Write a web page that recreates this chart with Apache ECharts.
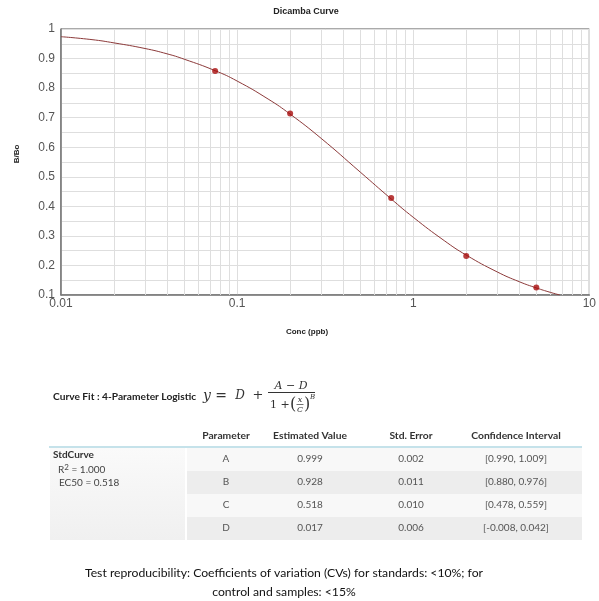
<!DOCTYPE html>
<html><head><meta charset="utf-8">
<script src="https://cdn.jsdelivr.net/npm/echarts@6/dist/echarts.min.js"></script>
<style>html,body{margin:0;padding:0;background:#fff;}#c{width:599px;height:601px;}</style>
</head><body><div id="c"></div>
<script>
// ---- data ----
const stdX = [0.075, 0.2, 0.75, 2, 5];
const stdY = [0.858, 0.714, 0.428, 0.232, 0.125];
const curveX = [0.01, 0.015, 0.02, 0.03, 0.04, 0.05, 0.075, 0.1, 0.15, 0.2, 0.3, 0.5, 0.75, 1, 1.5, 2, 3, 4, 5, 6, 6.8];
const curveY = [0.974, 0.964, 0.953, 0.934, 0.916, 0.898, 0.859, 0.824, 0.763, 0.712, 0.630, 0.516, 0.425, 0.363, 0.284, 0.235, 0.178, 0.145, 0.124, 0.109, 0.100];
const xTickLabels = ['0.01', '0.1', '1', '10'];
const minorGridX = [0.02,0.03,0.04,0.05,0.06,0.07,0.08,0.09,0.2,0.3,0.4,0.5,0.6,0.7,0.8,0.9,2,3,4,5,6,7,8,9];
const paramNames = ['A', 'B', 'C', 'D'];
const estValues = ['0.999', '0.928', '0.518', '0.017'];
const stdErrors = ['0.002', '0.011', '0.010', '0.006'];
const confIntervals = ['[0.990, 1.009]', '[0.880, 0.976]', '[0.478, 0.559]', '[-0.008, 0.042]'];
const tableHeaders = ['Parameter', 'Estimated Value', 'Std. Error', 'Confidence Interval'];
const noteLines = ['Test reproducibility: Coefficients of variation (CVs) for standards: <10%; for', 'control and samples: <15%'];

const chart = echarts.init(document.getElementById('c'), null, {renderer: 'canvas'});
const gridCol = '#dedede';
const tf = 'Lato, "Open Sans", sans-serif';
const mf = '"DejaVu Serif", "Liberation Serif", serif';

const g = [];
// title & axis names
g.push({type:'text', x:306, y:12, style:{text:'Dicamba Curve', font:'bold 9px "Liberation Sans", Arial', fill:'#222', align:'center', verticalAlign:'middle'}});
g.push({type:'text', x:307, y:332, style:{text:'Conc (ppb)', font:'bold 8px "Liberation Sans", Arial', fill:'#222', align:'center', verticalAlign:'middle'}});
g.push({type:'text', x:17, y:154, rotation:Math.PI/2, style:{text:'B/Bo', font:'bold 8px "Liberation Sans", Arial', fill:'#222', align:'center', verticalAlign:'middle'}});

// curve fit heading + formula
g.push({type:'text', x:53, y:397, style:{text:'Curve Fit : 4-Parameter Logistic', font:'bold 10.2px '+tf, fill:'#222', align:'left', verticalAlign:'middle'}});
g.push({type:'text', x:203, y:396, style:{text:'y =', font:'italic 14px '+mf, fill:'#333', align:'left', verticalAlign:'middle'}});
g.push({type:'text', x:240, y:396, style:{text:'D', font:'italic 12px '+mf, fill:'#333', align:'center', verticalAlign:'middle'}});
g.push({type:'text', x:258, y:396, style:{text:'+', font:'13px '+mf, fill:'#333', align:'center', verticalAlign:'middle'}});
g.push({type:'text', x:291, y:386, style:{text:'A − D', font:'italic 11px '+mf, fill:'#333', align:'center', verticalAlign:'middle'}});
g.push({type:'line', shape:{x1:268, y1:392.5, x2:315, y2:392.5}, style:{stroke:'#333', lineWidth:1}});
g.push({type:'text', x:270, y:405, style:{text:'1 +', font:'11px '+mf, fill:'#333', align:'left', verticalAlign:'middle'}});
g.push({type:'text', x:290, y:405, style:{text:'(', font:'16px '+mf, fill:'#333', align:'left', verticalAlign:'middle'}});
g.push({type:'text', x:300, y:400, style:{text:'x', font:'italic 8px '+mf, fill:'#333', align:'center', verticalAlign:'middle'}});
g.push({type:'line', shape:{x1:296.5, y1:404.5, x2:303.5, y2:404.5}, style:{stroke:'#333', lineWidth:0.7}});
g.push({type:'text', x:300, y:409.5, style:{text:'C', font:'italic 8px '+mf, fill:'#333', align:'center', verticalAlign:'middle'}});
g.push({type:'text', x:304, y:405, style:{text:')', font:'16px '+mf, fill:'#333', align:'left', verticalAlign:'middle'}});
g.push({type:'text', x:310, y:397, style:{text:'B', font:'italic 7px '+mf, fill:'#333', align:'left', verticalAlign:'middle'}});

// table
const colX = [226, 310, 411, 516];
const rowTop = 448, rowH = 23;
g.push({type:'rect', shape:{x:50, y:rowTop, width:135, height:rowH*4}, style:{fill:{type:'linear', x:0, y:0, x2:0, y2:1, colorStops:[{offset:0, color:'#fafafa'}, {offset:1, color:'#f0f0f0'}]}}});
paramNames.forEach((p, i) => {
  g.push({type:'rect', shape:{x:187, y:rowTop + i*rowH, width:395, height:rowH}, style:{fill: i % 2 ? '#ededed' : '#f8f8f8'}});
});
g.push({type:'line', shape:{x1:49, y1:447, x2:582, y2:447}, style:{stroke:'#c5e2ea', lineWidth:2}});
tableHeaders.forEach((h, j) => {
  g.push({type:'text', x:colX[j], y:436, style:{text:h, font:'bold 10.3px '+tf, fill:'#333', align:'center', verticalAlign:'middle'}});
});
const cols = [paramNames, estValues, stdErrors, confIntervals];
paramNames.forEach((p, i) => {
  cols.forEach((col, j) => {
    g.push({type:'text', x:colX[j], y:rowTop + i*rowH + 11, style:{text:col[i], font:'10px '+tf, fill:'#555', align:'center', verticalAlign:'middle'}});
  });
});
g.push({type:'text', x:53, y:455, style:{text:'StdCurve', font:'bold 10px '+tf, fill:'#333', align:'left', verticalAlign:'middle'}});
g.push({type:'text', x:58, y:470, style:{text:'R{s|2} = 1.000', font:'10px '+tf, fill:'#444', align:'left', verticalAlign:'middle', rich:{s:{fontSize:8, verticalAlign:'top', padding:[0,0,6,0], fill:'#444', fontFamily:'Lato'}}}});
g.push({type:'text', x:59, y:483, style:{text:'EC50 = 0.518', font:'10px '+tf, fill:'#444', align:'left', verticalAlign:'middle'}});

// note
noteLines.forEach((t, i) => {
  g.push({type:'text', x:284, y:573 + i*19, style:{text:t, font:'12.2px '+tf, fill:'#111', align:'center', verticalAlign:'middle'}});
});

chart.setOption({
  animation: false,
  backgroundColor: '#fff',
  grid: {left:61, right:3, top:29, bottom:306, show:true, borderColor:'#555', borderWidth:1, backgroundColor:'transparent'},
  xAxis: {
    type:'log', logBase:10, min:0.01, max:10,
    axisLine:{show:true, lineStyle:{color:'#777', width:1.5}},
    axisTick:{show:false},
    axisLabel:{color:'#555', fontSize:12, fontFamily:'"Liberation Sans", Arial', margin:3,
      formatter: v => { const idx = Math.round(Math.log10(v) + 2); return xTickLabels[idx] !== undefined ? xTickLabels[idx] : ''; }},
    splitLine:{show:true, lineStyle:{color:gridCol, width:1}}
  },
  yAxis: {
    type:'value', min:0.1, max:1, interval:0.1,
    axisLine:{show:true, lineStyle:{color:'#777', width:1.5}},
    axisTick:{show:false},
    axisLabel:{color:'#555', fontSize:12, fontFamily:'"Liberation Sans", Arial', margin:6,
      formatter: v => (Math.round(v*10)/10).toString()},
    splitLine:{show:true, lineStyle:{color:gridCol, width:1}},
    minorTick:{show:false, splitNumber:2},
    minorSplitLine:{show:true, lineStyle:{color:gridCol, width:1}}
  },
  series: [
    {type:'line', data: curveX.map((x,i)=>[x, curveY[i]]), smooth:true, showSymbol:false, symbol:'none',
     lineStyle:{color:'#8c3a3a', width:1}, z:3,
     markLine:{silent:true, symbol:'none', label:{show:false}, lineStyle:{color:gridCol, width:1, type:'solid'},
       data: minorGridX.map(v=>({xAxis:v})), z:1}},
    {type:'scatter', data: stdX.map((x,i)=>[x, stdY[i]]), symbol:'circle', symbolSize:6,
     itemStyle:{color:'#a80c0c'}, z:4}
  ],
  graphic: g
});
</script></body></html>
